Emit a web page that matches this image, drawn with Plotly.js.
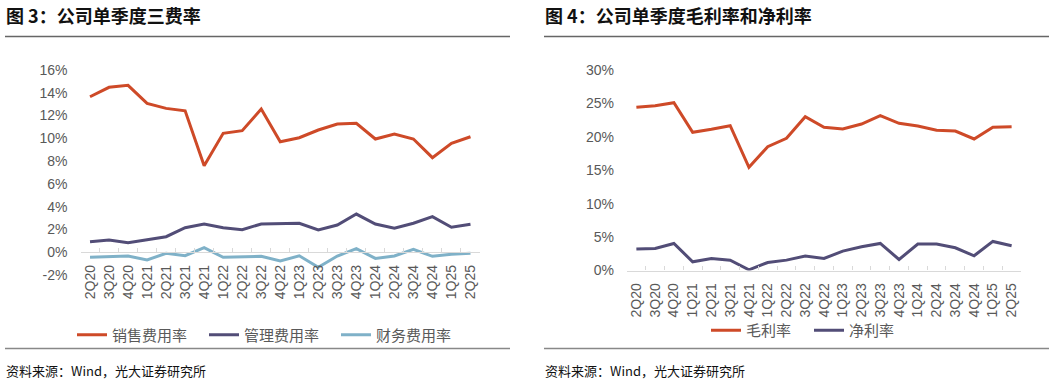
<!DOCTYPE html>
<html>
<head>
<meta charset="utf-8">
<script src="https://cdn.plot.ly/plotly-3.0.1.min.js"></script>
<style>
html,body{margin:0;padding:0;background:#fff;}
#chart{width:1054px;height:381px;}
</style>
</head>
<body>
<div id="chart"></div>
<script>
// ---- data ----
const quarters = ['2Q20','3Q20','4Q20','1Q21','2Q21','3Q21','4Q21','1Q22','2Q22','3Q22','4Q22','1Q23','2Q23','3Q23','4Q23','1Q24','2Q24','3Q24','4Q24','1Q25','2Q25'];
const salesExpenseRate = [13.65,14.48,14.65,13.07,12.63,12.42,7.59,10.44,10.67,12.57,9.70,10.05,10.73,11.26,11.32,9.94,10.38,9.94,8.30,9.56,10.14];
const adminExpenseRate = [0.92,1.07,0.83,1.07,1.36,2.15,2.48,2.15,1.98,2.48,2.54,2.54,1.95,2.39,3.35,2.48,2.10,2.54,3.12,2.19,2.45];
const financeExpenseRate = [-0.45,-0.36,-0.33,-0.68,-0.10,-0.31,0.40,-0.45,-0.40,-0.36,-0.77,-0.31,-1.33,-0.33,0.31,-0.54,-0.33,0.25,-0.36,-0.18,-0.10];
const grossMargin = [24.42,24.66,25.11,20.68,21.13,21.67,15.44,18.52,19.78,23.01,21.43,21.17,21.92,23.16,22.03,21.62,20.98,20.87,19.68,21.43,21.52];
const netMargin = [3.2,3.3,4.05,1.3,1.8,1.55,0.1,1.2,1.55,2.15,1.8,2.9,3.55,4.05,1.65,3.95,3.95,3.4,2.2,4.35,3.7];
const leftTickVals = [-2,0,2,4,6,8,10,12,14,16];
const leftTickText = ['-2%','0%','2%','4%','6%','8%','10%','12%','14%','16%'];
const rightTickVals = [0,5,10,15,20,25,30];
const rightTickText = ['0%','5%','10%','15%','20%','25%','30%'];
const leftTitle = '图 3：公司单季度三费率';
const rightTitle = '图 4：公司单季度毛利率和净利率';
const sourceText = '资料来源：Wind，光大证券研究所';

// ---- style ----
const W = 1054, H = 381;
const px = v => v / W;
const py = v => 1 - v / H;
const RED = '#CE4A28', PURPLE = '#524D77', BLUE = '#7FB1C8';
const FONT = 'Liberation Sans, Arial, Noto Sans CJK SC, sans-serif';
const CJK = 'Noto Sans CJK SC, sans-serif';
const GRAY = '#595959';

function line(y, name, color, xa, ya, legend) {
  return {x: quarters, y: y, name: name, type: 'scatter', mode: 'lines',
    line: {color: color, width: 3}, xaxis: xa, yaxis: ya, legend: legend,
    hoverinfo: 'x+y'};
}

const traces = [
  line(salesExpenseRate, '销售费用率', RED, 'x', 'y', 'legend'),
  line(adminExpenseRate, '管理费用率', PURPLE, 'x', 'y', 'legend'),
  line(financeExpenseRate, '财务费用率', BLUE, 'x', 'y', 'legend'),
  line(grossMargin, '毛利率', RED, 'x2', 'y2', 'legend2'),
  line(netMargin, '净利率', PURPLE, 'x2', 'y2', 'legend2')
];

const leftYTop = 70, leftYBot = 275, leftMin = -2, leftMax = 16;
const zeroPix = leftYBot - (0 - leftMin) / (leftMax - leftMin) * (leftYBot - leftYTop);

const xBase = {
  type: 'category', range: [-0.5, quarters.length - 0.5],
  showline: true, linecolor: '#D9D9D9', linewidth: 1.3,
  ticks: 'inside', tickson: 'boundaries', ticklen: 4, tickcolor: '#D9D9D9',
  ticklabelstandoff: 6,
  tickangle: -90, tickfont: {family: FONT, size: 14, color: GRAY},
  showgrid: false, zeroline: false, fixedrange: true
};
const yBase = {
  showline: false, showgrid: false, zeroline: false, ticks: '',
  ticklabelstandoff: 12,
  tickfont: {family: FONT, size: 14, color: GRAY}, fixedrange: true
};

const layout = {
  width: W, height: H, autosize: false,
  margin: {l: 0, r: 0, t: 0, b: 0},
  paper_bgcolor: '#fff', plot_bgcolor: 'rgba(0,0,0,0)',
  showlegend: true,
  xaxis: Object.assign({}, xBase, {domain: [px(80.5), px(480)], anchor: 'free', position: py(zeroPix)}),
  yaxis: Object.assign({}, yBase, {domain: [py(leftYBot), py(leftYTop)], range: [leftMin, leftMax],
    tickvals: leftTickVals, ticktext: leftTickText}),
  xaxis2: Object.assign({}, xBase, {domain: [px(627), px(1021)], anchor: 'y2'}),
  yaxis2: Object.assign({}, yBase, {domain: [py(270.5), py(70)], range: [0, 30],
    tickvals: rightTickVals, ticktext: rightTickText, anchor: 'x2'}),
  legend: {orientation: 'h', x: px(72), xanchor: 'left', y: py(335), yanchor: 'middle',
    font: {family: CJK, size: 15, color: GRAY}, bgcolor: 'rgba(0,0,0,0)',
    entrywidth: 87, entrywidthmode: 'pixels', itemclick: false, itemdoubleclick: false},
  legend2: {orientation: 'h', x: px(706), xanchor: 'left', y: py(330.5), yanchor: 'middle',
    font: {family: CJK, size: 15, color: GRAY}, bgcolor: 'rgba(0,0,0,0)',
    entrywidth: 58, entrywidthmode: 'pixels', itemclick: false, itemdoubleclick: false},
  shapes: [
    {type: 'line', xref: 'paper', yref: 'paper', x0: px(5), x1: px(510), y0: py(36.5), y1: py(36.5), line: {color: '#666', width: 1.5}},
    {type: 'line', xref: 'paper', yref: 'paper', x0: px(544), x1: px(1049), y0: py(36.5), y1: py(36.5), line: {color: '#666', width: 1.5}},
    {type: 'line', xref: 'paper', yref: 'paper', x0: px(5), x1: px(510), y0: py(348.5), y1: py(348.5), line: {color: '#888', width: 1.5}},
    {type: 'line', xref: 'paper', yref: 'paper', x0: px(544), x1: px(1049), y0: py(348.5), y1: py(348.5), line: {color: '#888', width: 1.5}}
  ],
  annotations: [
    {text: '<b>' + leftTitle + '</b>', xref: 'paper', yref: 'paper', x: px(4), y: py(15.5), xanchor: 'left', yanchor: 'middle', showarrow: false, font: {family: CJK, size: 18, color: '#111'}},
    {text: '<b>' + rightTitle + '</b>', xref: 'paper', yref: 'paper', x: px(543), y: py(15.5), xanchor: 'left', yanchor: 'middle', showarrow: false, font: {family: CJK, size: 18, color: '#111'}},
    {text: sourceText, xref: 'paper', yref: 'paper', x: px(4), y: py(370), xanchor: 'left', yanchor: 'middle', showarrow: false, font: {family: CJK, size: 13, color: '#111'}},
    {text: sourceText, xref: 'paper', yref: 'paper', x: px(543), y: py(370), xanchor: 'left', yanchor: 'middle', showarrow: false, font: {family: CJK, size: 13, color: '#111'}}
  ]
};

Plotly.newPlot('chart', traces, layout, {displayModeBar: false, staticPlot: false, responsive: false});
</script>
</body>
</html>
